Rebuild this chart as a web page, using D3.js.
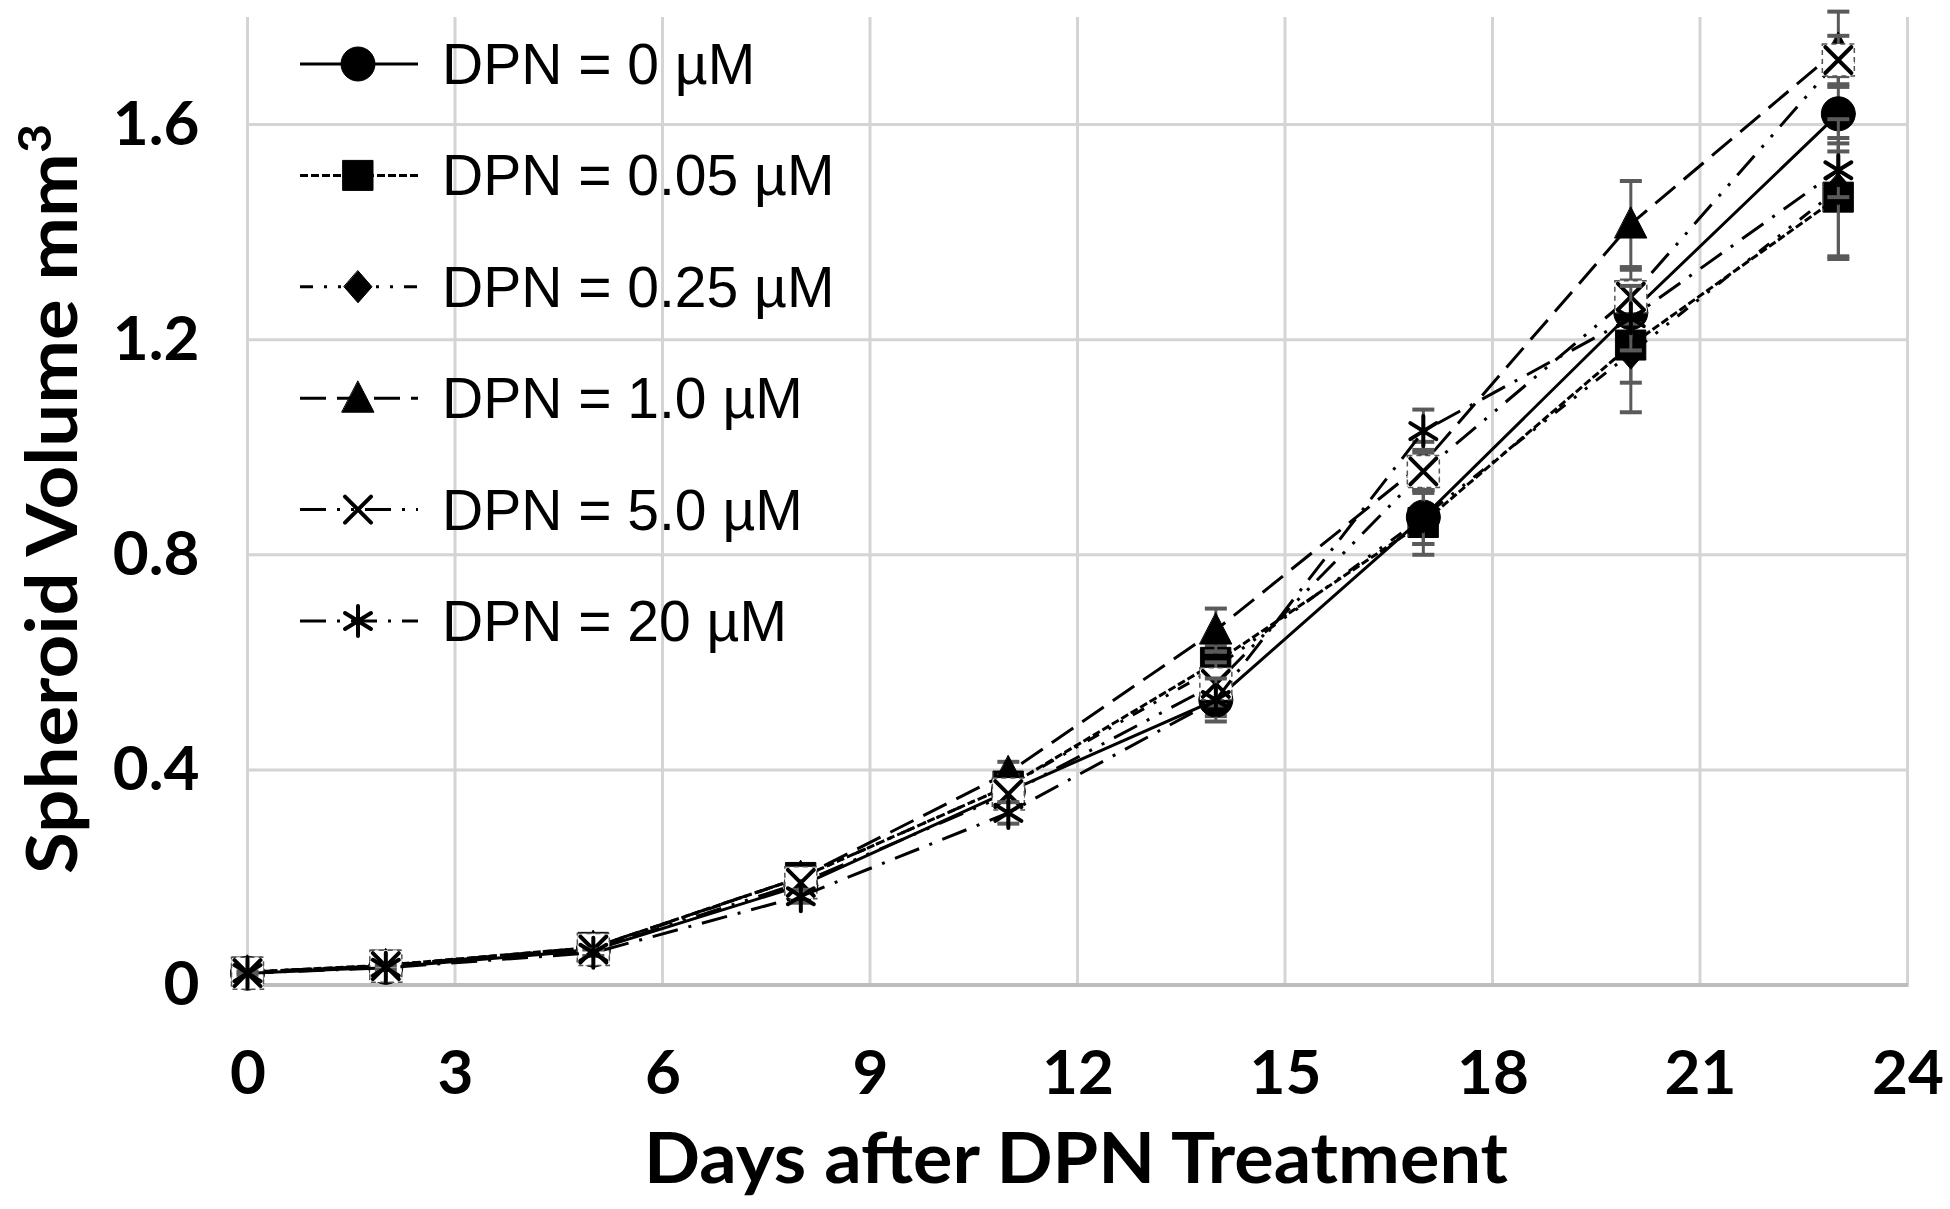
<!DOCTYPE html>
<html>
<head>
<meta charset="utf-8">
<script src="https://cdn.jsdelivr.net/npm/d3@7"></script>
<style>
  html, body { margin: 0; padding: 0; background: #ffffff; }
  svg { display: block; }
</style>
</head>
<body>
<svg id="chart" width="1950" height="1209"></svg>
<script>
// ---------------- data ----------------
const days = [0, 2, 5, 8, 11, 14, 17, 20, 23];
const seriesLabels = ["DPN = 0 µM", "DPN = 0.05 µM", "DPN = 0.25 µM", "DPN = 1.0 µM", "DPN = 5.0 µM", "DPN = 20 µM"];

const vol0   = [0.022, 0.033, 0.065, 0.185, 0.360, 0.530, 0.870, 1.250, 1.620];
const vol005 = [0.024, 0.037, 0.070, 0.200, 0.370, 0.600, 0.860, 1.190, 1.465];
const vol025 = [0.024, 0.036, 0.068, 0.200, 0.370, 0.590, 0.870, 1.175, 1.480];
const vol1   = [0.024, 0.036, 0.070, 0.200, 0.395, 0.660, 0.970, 1.415, 1.740];
const vol5   = [0.022, 0.035, 0.066, 0.190, 0.355, 0.560, 0.955, 1.280, 1.720];
const vol20  = [0.022, 0.032, 0.060, 0.165, 0.320, 0.530, 1.030, 1.240, 1.515];

const err0   = [0.003, 0.004, 0.006, 0.012, 0.020, 0.030, 0.050, 0.060, 0.070];
const err005 = [0.003, 0.004, 0.006, 0.012, 0.020, 0.030, 0.060, 0.070, 0.110];
const err025 = [0.003, 0.004, 0.006, 0.012, 0.020, 0.030, 0.050, 0.110, 0.130];
const err1   = [0.003, 0.004, 0.006, 0.012, 0.020, 0.040, 0.040, 0.080, 0.070];
const err5   = [0.003, 0.004, 0.006, 0.012, 0.020, 0.040, 0.040, 0.050, 0.045];
const err20  = [0.003, 0.004, 0.006, 0.012, 0.020, 0.040, 0.040, 0.060, 0.050];

const xTicks = [0, 3, 6, 9, 12, 15, 18, 21, 24];
const yTicks = [0, 0.4, 0.8, 1.2, 1.6];
const xTitle = "Days after DPN Treatment";
const yTitle = "Spheroid Volume mm";

// ---------------- styles ----------------
const series = [
  { label: seriesLabels[0], v: vol0,   e: err0,   dash: null,              marker: "circle",   box: false },
  { label: seriesLabels[1], v: vol005, e: err005, dash: "8,3",             marker: "square",   box: false },
  { label: seriesLabels[2], v: vol025, e: err025, dash: "13,11,3,11,3,11", marker: "diamond",  box: false },
  { label: seriesLabels[3], v: vol1,   e: err1,   dash: "26,11",           marker: "triangle", box: false },
  { label: seriesLabels[4], v: vol5,   e: err5,   dash: "26,11,3,11,3,11", marker: "x",        box: true },
  { label: seriesLabels[5], v: vol20,  e: err20,  dash: "26,11,3,11",      marker: "star",     box: false }
];

const svg = d3.select("#chart");
const x = d3.scaleLinear().domain([0, 24]).range([247.5, 1907.5]);
const y = d3.scaleLinear().domain([0, 1.8]).range([985, 17]);

const gridColor = "#d4d4d4";

// vertical gridlines
svg.append("g").selectAll("line").data(xTicks).join("line")
  .attr("x1", d => x(d)).attr("x2", d => x(d))
  .attr("y1", y(1.8)).attr("y2", y(0))
  .attr("stroke", gridColor).attr("stroke-width", 3);

// horizontal gridlines
svg.append("g").selectAll("line").data(yTicks.filter(d => d > 0)).join("line")
  .attr("x1", x(0)).attr("x2", x(24))
  .attr("y1", d => y(d)).attr("y2", d => y(d))
  .attr("stroke", gridColor).attr("stroke-width", 3);

// x axis line
svg.append("line")
  .attr("x1", x(0) - 1).attr("x2", x(24) + 1)
  .attr("y1", y(0)).attr("y2", y(0))
  .attr("stroke", "#bdbdbd").attr("stroke-width", 4);

// axes (labels)
const xAxis = svg.append("g").attr("transform", `translate(0,${y(0)})`)
  .call(d3.axisBottom(x).tickValues(xTicks).tickSize(0).tickPadding(65).tickFormat(d3.format("d")));
const yAxis = svg.append("g").attr("transform", `translate(${x(0)},0)`)
  .call(d3.axisLeft(y).tickValues(yTicks).tickSize(0).tickPadding(48)
    .tickFormat(d => d === 0 ? "0" : d3.format(".1f")(d)));
[xAxis, yAxis].forEach(a => {
  a.select(".domain").remove();
  a.selectAll("text")
    .attr("font-family", "Lato, 'Open Sans', sans-serif")
    .attr("font-weight", 700)
    .attr("font-size", 62)
    .attr("fill", "#000");
});

// axis titles
svg.append("text")
  .attr("x", 1076).attr("y", 1183)
  .attr("text-anchor", "middle")
  .attr("font-family", "Lato, 'Open Sans', sans-serif")
  .attr("font-weight", 700).attr("font-size", 70)
  .attr("textLength", 864).attr("lengthAdjust", "spacingAndGlyphs")
  .attr("fill", "#000")
  .text(xTitle);

const yt = svg.append("text")
  .attr("transform", "translate(77,499) rotate(-90)")
  .attr("text-anchor", "middle")
  .attr("font-family", "Lato, 'Open Sans', sans-serif")
  .attr("font-weight", 700).attr("font-size", 70)
  .attr("textLength", 750).attr("lengthAdjust", "spacingAndGlyphs")
  .attr("fill", "#000");
yt.append("tspan").text(yTitle);
yt.append("tspan").attr("dy", -26).attr("font-size", 46).text("3");

// ---------------- markers ----------------
function markerPath(type) {
  switch (type) {
    case "circle": return d3.symbol(d3.symbolCircle, Math.PI * 17 * 17)();
    case "square": return "M-15,-15H15V15H-15Z";
    case "diamond": return "M0,-16L14,0L0,16L-14,0Z";
    case "triangle": return "M0,-17L16,14H-16Z";
    case "x": return "M-13,-13L13,13M-13,13L13,-13";
    case "star": return "M0,-15V15M-13,-8L13,8M-13,8L13,-8";
  }
}
function drawMarker(g, type, cx, cy, box) {
  const filled = ["circle", "square", "diamond", "triangle"].includes(type);
  if (box) {
    g.append("rect")
      .attr("x", cx - 16).attr("y", cy - 16).attr("width", 32).attr("height", 32)
      .attr("fill", "#fff").attr("stroke", "#555").attr("stroke-width", 1.5)
      .attr("stroke-dasharray", "5,4");
  }
  g.append("path")
    .attr("d", markerPath(type))
    .attr("transform", `translate(${cx},${cy})`)
    .attr("fill", filled ? "#000" : "none")
    .attr("stroke", "#000")
    .attr("stroke-width", filled ? 1 : 4)
    .attr("stroke-linecap", "round");
}

// ---------------- series ----------------
const line = d3.line().x(d => x(d[0])).y(d => y(d[1]));
const capW = 22;

series.forEach(s => {
  const g = svg.append("g");
  const pts = days.map((d, i) => [d, s.v[i]]);
  g.append("path")
    .attr("d", line(pts))
    .attr("fill", "none")
    .attr("stroke", "#000")
    .attr("stroke-width", 3)
    .attr("stroke-dasharray", s.dash);
  // error bars
  days.forEach((d, i) => {
    const cx = x(d), top = y(s.v[i] + s.e[i]), bot = y(s.v[i] - s.e[i]);
    g.append("line").attr("x1", cx).attr("x2", cx).attr("y1", top).attr("y2", bot)
      .attr("stroke", "#5a5a5a").attr("stroke-width", 3);
    [top, bot].forEach(yy => g.append("line")
      .attr("x1", cx - capW / 2).attr("x2", cx + capW / 2).attr("y1", yy).attr("y2", yy)
      .attr("stroke", "#5a5a5a").attr("stroke-width", 4));
  });
  days.forEach((d, i) => drawMarker(g, s.marker, x(d), y(s.v[i]), s.box));
});

// ---------------- legend ----------------
const legend = svg.append("g");
series.forEach((s, i) => {
  const cy = 64 + i * 111.4;
  legend.append("line")
    .attr("x1", 300).attr("x2", 418).attr("y1", cy).attr("y2", cy)
    .attr("stroke", "#000").attr("stroke-width", 3)
    .attr("stroke-dasharray", s.dash);
  drawMarker(legend, s.marker, 358, cy, false);
  legend.append("text")
    .attr("x", 442).attr("y", cy + 20)
    .attr("font-family", "'Liberation Sans', Arial, sans-serif")
    .attr("font-size", 57)
    .attr("fill", "#000")
    .text(s.label);
});
</script>
</body>
</html>
